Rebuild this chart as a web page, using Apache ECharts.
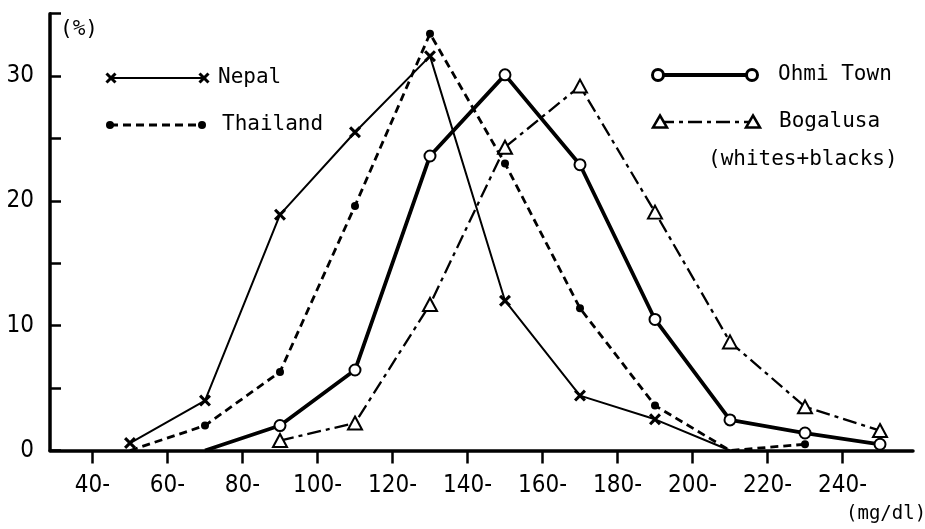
<!DOCTYPE html>
<html><head><meta charset="utf-8">
<script src="https://cdn.jsdelivr.net/npm/echarts@6/dist/echarts.min.js"></script>
<style>html,body{margin:0;padding:0;background:#fff}#c{width:925px;height:529px}</style>
</head><body><div id="c"></div>
<script>
// Class midpoints (mg/dl) and values (%)
const classMid = [50, 70, 90, 110, 130, 150, 170, 190, 210, 230, 250];
const tickValues = [40, 60, 80, 100, 120, 140, 160, 180, 200, 220, 240];
const yTicks = [0, 5, 10, 15, 20, 25, 30, 35];
const yLabels = [0, 10, 20, 30];
const nepal    = [0.6, 4.0, 18.9, 25.5, 31.6, 12.0, 4.4, 2.5, 0, null, null];
const thailand = [0, 2.0, 6.3, 19.6, 33.4, 23.0, 11.4, 3.6, 0, 0.5, null];
const ohmi     = [null, 0, 2.0, 6.45, 23.6, 30.1, 22.9, 10.5, 2.45, 1.4, 0.5];
const bogalusa = [null, null, 0.8, 2.2, 11.7, 24.3, 29.2, 19.1, 8.7, 3.5, 1.6];

function build(vals) {
  const out = [];
  vals.forEach((v, i) => {
    if (v === null) return;
    const item = { value: [classMid[i], v] };
    if (v === 0) item.symbol = 'none';
    out.push(item);
  });
  return out;
}

const K = '#000';
const xPath = 'path://M0,1.8L1.8,0L5,3.2L8.2,0L10,1.8L6.8,5L10,8.2L8.2,10L5,6.8L1.8,10L0,8.2L3.2,5Z';
const monoFont = '"DejaVu Sans Mono","Liberation Mono",monospace';
const sansFont = '"Liberation Sans Narrow","DejaVu Sans Condensed","Liberation Sans",sans-serif';

function xMark(cx, cy, s) {
  return [
    { type: 'line', shape: { x1: cx - s, y1: cy - s, x2: cx + s, y2: cy + s }, style: { stroke: K, lineWidth: 3 } },
    { type: 'line', shape: { x1: cx - s, y1: cy + s, x2: cx + s, y2: cy - s }, style: { stroke: K, lineWidth: 3 } }
  ];
}
function tri(cx, cy) {
  return { type: 'polygon', shape: { points: [[cx, cy - 6.5], [cx + 7, cy + 5.5], [cx - 7, cy + 5.5]] }, style: { fill: '#fff', stroke: K, lineWidth: 2.5 }, z: 10 };
}
function txt(t, x, y, size) {
  return { type: 'text', style: { text: t, x: x, y: y, fill: K, font: size + 'px ' + monoFont, verticalAlign: 'middle' } };
}

const graphic = [].concat(
  // Nepal
  [{ type: 'line', shape: { x1: 111, y1: 78, x2: 204, y2: 78 }, style: { stroke: K, lineWidth: 2 } }],
  xMark(111, 78, 4.5), xMark(204, 78, 4.5),
  [txt('Nepal', 218, 78, 21)],
  // Thailand
  [{ type: 'line', shape: { x1: 110, y1: 125, x2: 202, y2: 125 }, style: { stroke: K, lineWidth: 2.8, lineDash: [8, 5] } },
   { type: 'circle', shape: { cx: 110, cy: 125, r: 4 }, style: { fill: K } },
   { type: 'circle', shape: { cx: 202, cy: 125, r: 4 }, style: { fill: K } },
   txt('Thailand', 222, 125, 21)],
  // Ohmi Town
  [{ type: 'line', shape: { x1: 658, y1: 75, x2: 752, y2: 75 }, style: { stroke: K, lineWidth: 3.8 } },
   { type: 'circle', shape: { cx: 658, cy: 75, r: 5.5 }, style: { fill: '#fff', stroke: K, lineWidth: 3 }, z: 10 },
   { type: 'circle', shape: { cx: 752, cy: 75, r: 5.5 }, style: { fill: '#fff', stroke: K, lineWidth: 3 }, z: 10 },
   txt('Ohmi Town', 778, 75, 21)],
  // Bogalusa
  [{ type: 'line', shape: { x1: 660, y1: 122, x2: 753, y2: 122 }, style: { stroke: K, lineWidth: 2.3, lineDash: [14, 5, 4, 5] } },
   tri(660, 122), tri(753, 122),
   txt('Bogalusa', 779, 122, 21),
   txt('(whites+blacks)', 708, 160, 21)],
  // axis names
  [txt('(%)', 60, 30, 21), txt('(mg/dl)', 846, 514, 19)]
);

const chart = echarts.init(document.getElementById('c'), null, { renderer: 'canvas' });
chart.setOption({
  backgroundColor: '#fff',
  animation: false,
  grid: { left: 50, right: 12, top: 13.7, bottom: 78.5, containLabel: false },
  xAxis: {
    type: 'value', min: 28.667, max: 258.8,
    splitLine: { show: false },
    axisLine: { show: true, lineStyle: { color: K, width: 3.5 } },
    axisTick: { show: true, inside: false, length: 13, lineStyle: { color: K, width: 2.5 }, customValues: tickValues },
    axisLabel: { show: true, color: K, fontFamily: sansFont, fontSize: 24, margin: 23, customValues: tickValues, formatter: v => v + '-' }
  },
  yAxis: {
    type: 'value', min: 0, max: 35,
    splitLine: { show: false },
    axisLine: { show: true, lineStyle: { color: K, width: 3.5 } },
    axisTick: { show: true, inside: true, length: 11, lineStyle: { color: K, width: 2.5 }, customValues: yTicks },
    axisLabel: { show: true, color: K, fontFamily: sansFont, fontSize: 24, margin: 16, customValues: yLabels }
  },
  graphic: graphic,
  series: [
    { name: 'Nepal', type: 'line', data: build(nepal), symbol: xPath, symbolSize: 12,
      lineStyle: { color: K, width: 2 }, itemStyle: { color: K } },
    { name: 'Thailand', type: 'line', data: build(thailand), symbol: 'circle', symbolSize: 8,
      lineStyle: { color: K, width: 2.8, type: [8, 5] }, itemStyle: { color: K } },
    { name: 'Ohmi Town', type: 'line', data: build(ohmi), symbol: 'emptyCircle', symbolSize: 11, z: 5,
      lineStyle: { color: K, width: 3.8 }, itemStyle: { color: K, borderWidth: 3, borderColor: K } },
    { name: 'Bogalusa', type: 'line', data: build(bogalusa), symbol: 'emptyTriangle', symbolSize: [14, 13], z: 4,
      lineStyle: { color: K, width: 2.3, type: [14, 5, 4, 5] }, itemStyle: { color: K, borderWidth: 2.5, borderColor: K } }
  ]
});
</script>
</body></html>
